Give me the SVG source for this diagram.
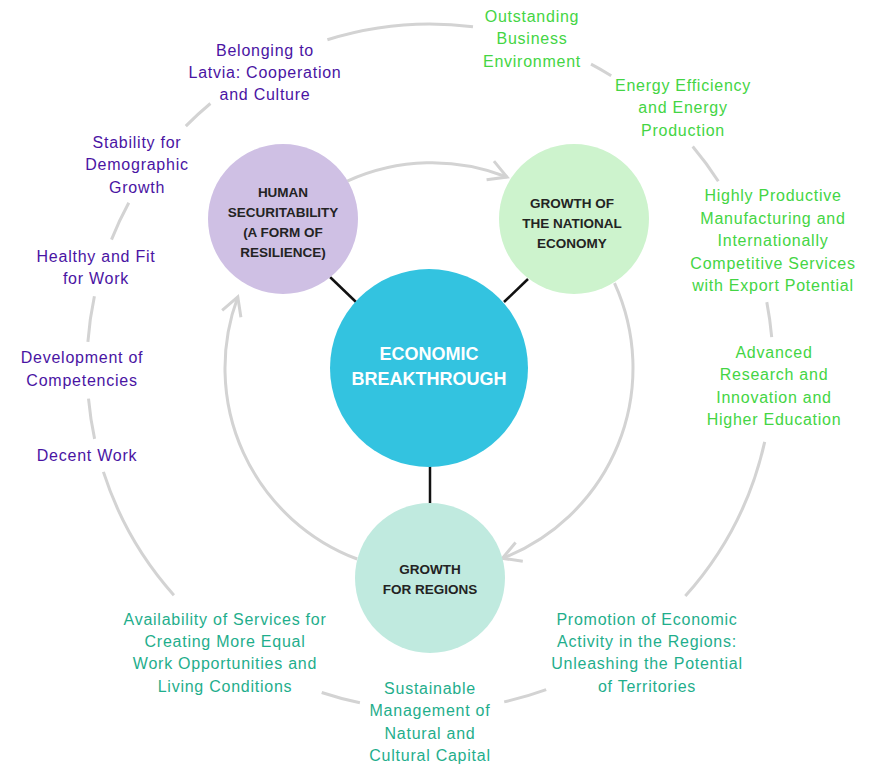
<svg xmlns="http://www.w3.org/2000/svg" width="872" height="766" viewBox="0 0 872 766">
<defs>
<style>
.ring{fill:none;stroke:#d3d3d3;stroke-width:3;stroke-linecap:butt}
.link{stroke:#111;stroke-width:2.5}
.lbl{font-family:"Liberation Sans",Arial,sans-serif;font-size:16px;letter-spacing:0.75px;text-anchor:middle}
.pur{fill:#4a14a3}
.grn{fill:#44d544}
.tea{fill:#1fae8c}
.nt{font-family:"Liberation Sans",Arial,sans-serif;font-weight:bold;font-size:13.5px;fill:#232323;text-anchor:middle}
.ct{font-family:"Liberation Sans",Arial,sans-serif;font-weight:bold;font-size:18px;fill:#ffffff;text-anchor:middle}
</style>
<marker id="chev" markerUnits="userSpaceOnUse" markerWidth="30" markerHeight="30" viewBox="-25 -15 30 30" refX="0" refY="0" orient="auto">
<path d="M-18,-10 L0,0 L-18,10" fill="none" stroke="#d3d3d3" stroke-width="3"/>
</marker>
</defs>
<rect width="872" height="766" fill="#ffffff"/>
<g id="connectors">
<path class="ring" d="M327.4,39.7 A343,343 0 0 1 473.0,26.7"/>
<path class="ring" d="M591.0,64.2 A343,343 0 0 1 611.2,75.8"/>
<path class="ring" d="M692.7,146.5 A343,343 0 0 1 718.3,181.2"/>
<path class="ring" d="M766.8,302.1 A343,343 0 0 1 771.7,337.1"/>
<path class="ring" d="M764.7,441.8 A343,343 0 0 1 685.3,596.1"/>
<path class="ring" d="M546.2,689.7 A343,343 0 0 1 504.2,701.9"/>
<path class="ring" d="M359.9,702.8 A343,343 0 0 1 321.7,692.5"/>
<path class="ring" d="M173.9,595.2 A343,343 0 0 1 103.4,471.9"/>
<path class="ring" d="M94.6,438.9 A343,343 0 0 1 88.5,398.7"/>
<path class="ring" d="M87.9,341.9 A343,343 0 0 1 94.4,296.3"/>
<path class="ring" d="M111.5,239.6 A343,343 0 0 1 128.8,202.8"/>
<path class="ring" d="M185.8,126.1 A343,343 0 0 1 210.4,103.5"/>
<path class="ring" marker-end="url(#chev)" d="M347.3,181.1 A204,204 0 0 1 507,177"/>
<path class="ring" marker-end="url(#chev)" d="M614.5,283.1 A204,204 0 0 1 502.4,558.3"/>
<path class="ring" marker-end="url(#chev)" d="M357.2,559.0 A204,204 0 0 1 237.8,296.9"/>
<line class="link" x1="330" y1="277" x2="356" y2="302"/>
<line class="link" x1="528" y1="279" x2="504" y2="302"/>
<line class="link" x1="430" y1="466" x2="430" y2="504"/>
</g>
<g id="node-human">
<circle cx="283" cy="219" r="75" fill="#cfc0e4"/>
<text class="nt" x="283" y="197">HUMAN</text>
<text class="nt" x="283" y="217">SECURITABILITY</text>
<text class="nt" x="283" y="237">(A FORM OF</text>
<text class="nt" x="283" y="257">RESILIENCE)</text>
</g>
<g id="node-national">
<circle cx="574" cy="219" r="75" fill="#cdf3cd"/>
<text class="nt" x="572" y="208">GROWTH OF</text>
<text class="nt" x="572" y="228">THE NATIONAL</text>
<text class="nt" x="572" y="248">ECONOMY</text>
</g>
<g id="node-regions">
<circle cx="430" cy="578" r="75" fill="#c0eadf"/>
<text class="nt" x="430" y="574">GROWTH</text>
<text class="nt" x="430" y="594">FOR REGIONS</text>
</g>
<g id="node-center">
<circle cx="429" cy="368" r="99" fill="#33c3e0"/>
<text class="ct" x="429" y="360">ECONOMIC</text>
<text class="ct" x="429" y="385">BREAKTHROUGH</text>
</g>
<g id="label-belonging" class="lbl pur">
<text x="265" y="56">Belonging to</text>
<text x="265" y="78">Latvia: Cooperation</text>
<text x="265" y="100">and Culture</text>
</g>
<g id="label-stability" class="lbl pur">
<text x="137" y="148">Stability for</text>
<text x="137" y="170">Demographic</text>
<text x="137" y="193">Growth</text>
</g>
<g id="label-healthy" class="lbl pur">
<text x="96" y="262">Healthy and Fit</text>
<text x="96" y="284">for Work</text>
</g>
<g id="label-competencies" class="lbl pur">
<text x="82" y="363">Development of</text>
<text x="82" y="386">Competencies</text>
</g>
<g id="label-decent" class="lbl pur">
<text x="87" y="461">Decent Work</text>
</g>
<g id="label-business" class="lbl grn">
<text x="532" y="22">Outstanding</text>
<text x="532" y="44">Business</text>
<text x="532" y="67">Environment</text>
</g>
<g id="label-energy" class="lbl grn">
<text x="683" y="91">Energy Efficiency</text>
<text x="683" y="113">and Energy</text>
<text x="683" y="136">Production</text>
</g>
<g id="label-manufacturing" class="lbl grn">
<text x="773" y="201">Highly Productive</text>
<text x="773" y="224">Manufacturing and</text>
<text x="773" y="246">Internationally</text>
<text x="773" y="269">Competitive Services</text>
<text x="773" y="291">with Export Potential</text>
</g>
<g id="label-research" class="lbl grn">
<text x="774" y="358">Advanced</text>
<text x="774" y="380">Research and</text>
<text x="774" y="403">Innovation and</text>
<text x="774" y="425">Higher Education</text>
</g>
<g id="label-services" class="lbl tea">
<text x="225" y="625">Availability of Services for</text>
<text x="225" y="647">Creating More Equal</text>
<text x="225" y="669">Work Opportunities and</text>
<text x="225" y="692">Living Conditions</text>
</g>
<g id="label-sustainable" class="lbl tea">
<text x="430" y="694">Sustainable</text>
<text x="430" y="716">Management of</text>
<text x="430" y="739">Natural and</text>
<text x="430" y="761">Cultural Capital</text>
</g>
<g id="label-promotion" class="lbl tea">
<text x="647" y="625">Promotion of Economic</text>
<text x="647" y="647">Activity in the Regions:</text>
<text x="647" y="669">Unleashing the Potential</text>
<text x="647" y="692">of Territories</text>
</g>
</svg>
